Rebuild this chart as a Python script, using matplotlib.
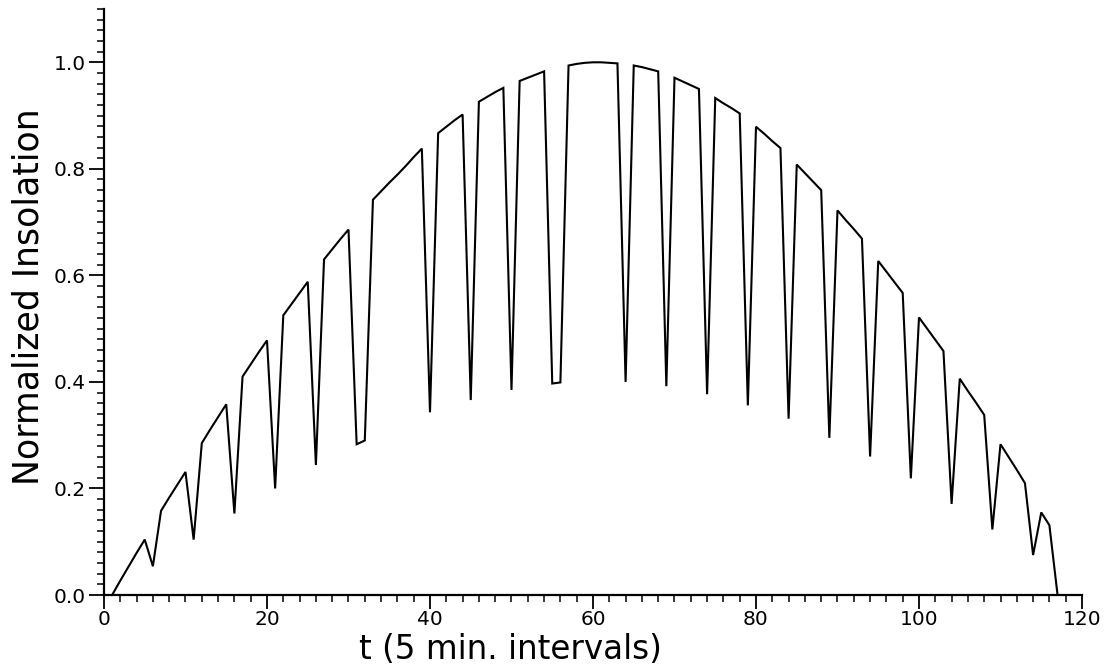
import matplotlib
matplotlib.use("Agg")
import matplotlib.pyplot as plt
from matplotlib.ticker import MultipleLocator

# Time index (5 min. intervals) and normalized insolation
t = [1, 2, 3, 4, 5, 6, 7, 8, 9, 10,
     11, 12, 13, 14, 15, 16, 17, 18, 19, 20,
     21, 22, 23, 24, 25, 26, 27, 28, 29, 30,
     31, 32, 33, 34, 35, 36, 37, 38, 39, 40,
     41, 42, 43, 44, 45, 46, 47, 48, 49, 50,
     51, 52, 53, 54, 55, 56, 57, 58, 59, 60,
     61, 62, 63, 64, 65, 66, 67, 68, 69, 70,
     71, 72, 73, 74, 75, 76, 77, 78, 79, 80,
     81, 82, 83, 84, 85, 86, 87, 88, 89, 90,
     91, 92, 93, 94, 95, 96, 97, 98, 99, 100,
     101, 102, 103, 104, 105, 106, 107, 108, 109, 110,
     111, 112, 113, 114, 115, 116, 117]

insolation = [0.000, 0.027, 0.053, 0.079, 0.104, 0.054, 0.158, 0.183, 0.207, 0.231,
              0.104, 0.285, 0.310, 0.334, 0.358, 0.153, 0.410, 0.433, 0.456, 0.478,
              0.200, 0.525, 0.546, 0.567, 0.588, 0.244, 0.630, 0.649, 0.668, 0.686,
              0.283, 0.290, 0.742, 0.758, 0.774, 0.789, 0.805, 0.822, 0.838, 0.343,
              0.867, 0.879, 0.891, 0.902, 0.366, 0.926, 0.935, 0.944, 0.952, 0.385,
              0.965, 0.971, 0.977, 0.983, 0.397, 0.399, 0.994, 0.997, 0.999, 1.000,
              1.000, 0.999, 0.998, 0.400, 0.994, 0.991, 0.987, 0.983, 0.392, 0.971,
              0.964, 0.957, 0.950, 0.377, 0.933, 0.923, 0.914, 0.904, 0.356, 0.879,
              0.866, 0.852, 0.839, 0.331, 0.808, 0.792, 0.776, 0.760, 0.295, 0.722,
              0.704, 0.687, 0.669, 0.260, 0.627, 0.607, 0.587, 0.567, 0.219, 0.521,
              0.500, 0.479, 0.458, 0.171, 0.406, 0.383, 0.361, 0.338, 0.123, 0.283,
              0.259, 0.235, 0.210, 0.075, 0.155, 0.131, 0.000]

x_ticks = [0, 20, 40, 60, 80, 100, 120]
y_ticks = [0.0, 0.2, 0.4, 0.6, 0.8, 1.0]
x_label = "t (5 min. intervals)"
y_label = "Normalized Insolation"

plt.rcParams['font.family'] = ['DejaVu Sans']

fig = plt.figure(figsize=(11.11, 6.69), dpi=100)
ax = fig.add_axes([0.0936, 0.1106, 0.9739 - 0.0936, 0.9865 - 0.1106])

ax.plot(t, insolation, color='black', lw=1.5, solid_joinstyle='miter')

ax.set_xlim(0, 120)
ax.set_ylim(0, 1.1)
ax.set_xticks(x_ticks)
ax.set_yticks(y_ticks)
ax.set_yticklabels([f"{v:.1f}" for v in y_ticks])
ax.xaxis.set_minor_locator(MultipleLocator(2))
ax.yaxis.set_minor_locator(MultipleLocator(0.02))

for side in ['top', 'right']:
    ax.spines[side].set_visible(False)
for side in ['left', 'bottom']:
    ax.spines[side].set_linewidth(1.6)

ax.tick_params(axis='x', which='major', direction='out', length=10, width=1.3,
               labelsize=14.5, pad=1, colors='black')
ax.tick_params(axis='y', which='major', direction='out', length=11, width=1.3,
               labelsize=14.5, pad=2, colors='black')
ax.tick_params(axis='both', which='minor', direction='out', length=5, width=1.1)

fig.text(0.459, 0.004, x_label, fontsize=23.5, ha='center', va='bottom', color='black')
fig.text(0.026, 0.556, y_label, fontsize=25, rotation=90, ha='center', va='center',
         color='black')

fig.savefig("out.png", dpi=100)
